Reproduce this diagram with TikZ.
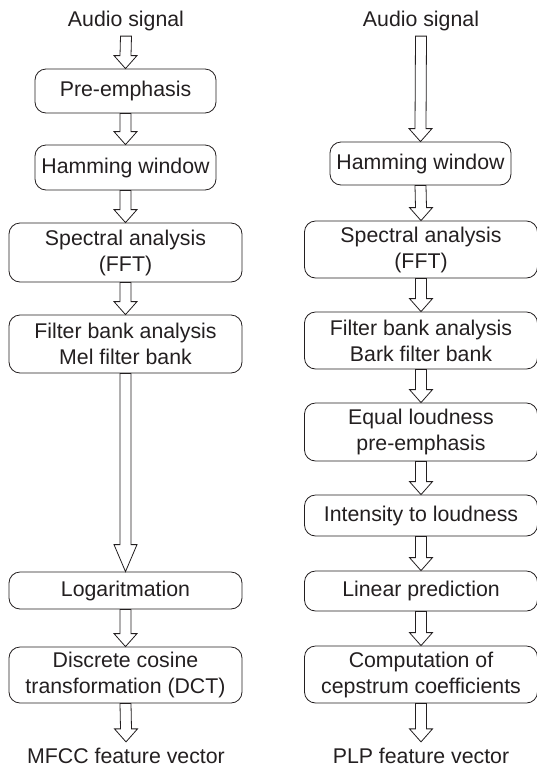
\documentclass[tikz,border=0pt]{standalone}
\usepackage{fontspec}
\setmainfont{Liberation Sans}
\usetikzlibrary{calc}
\definecolor{ink}{RGB}{35,31,32}

% hollow block arrow from node #2 down to node #3, #1 = head length
\newcommand{\flowarrow}[3][13]{%
  \draw[blockarrow] ($(#2.south)+(-5.5,0)$) -- ($(#3.north)+(-5.5,#1)$)
    -- ($(#3.north)+(-11.5,#1)$) -- (#3.north) -- ($(#3.north)+(11.5,#1)$)
    -- ($(#3.north)+(5.5,#1)$) -- ($(#2.south)+(5.5,0)$) -- cycle;}

\begin{document}
\begin{tikzpicture}[x=1pt,y=1pt,
    font=\fontsize{21.3}{26}\selectfont, text=ink,
    stagebox/.style={draw=ink, line width=0.8pt, rounded corners=11pt,
        align=center, inner sep=0pt, minimum width=233pt},
    narrowbox/.style={stagebox, minimum width=181pt},
    termtext/.style={inner xsep=0pt, inner ysep=5.5pt, anchor=base},
    blockarrow/.style={draw=ink, line width=0.8pt, fill=white, line join=miter}]
    \useasboundingbox (0,0) rectangle (536,-769);

    % MFCC chain (left)
    \node [termtext] (audioL) at (126,-26) {Audio signal};
    \node [narrowbox, minimum height=44pt] (preemph) at (125.5,-91) {Pre-emphasis};
    \node [narrowbox, minimum height=45pt] (hammL) at (125.5,-167.5) {Hamming window};
    \node [stagebox, minimum height=59pt] (spectL) at (125.5,-252.5) {Spectral analysis\\(FFT)};
    \node [stagebox, minimum height=58pt] (filtL) at (125.5,-344) {Filter bank analysis\\Mel filter bank};
    \node [stagebox, minimum height=37pt] (logL) at (125.5,-590.5) {Logaritmation};
    \node [stagebox, minimum height=56pt] (dctL) at (125.5,-675) {Discrete cosine\\transformation (DCT)};
    \node [termtext] (mfcc) at (126,-763) {MFCC feature vector};

    \flowarrow{audioL}{preemph}
    \flowarrow{preemph}{hammL}
    \flowarrow{hammL}{spectL}
    \flowarrow{spectL}{filtL}
    \flowarrow[27]{filtL}{logL}
    \flowarrow{logL}{dctL}
    \flowarrow{dctL}{mfcc}

    % PLP chain (right)
    \node [termtext] (audioR) at (421,-26) {Audio signal};
    \node [narrowbox, minimum height=43pt] (hammR) at (420.5,-163.5) {Hamming window};
    \node [stagebox, minimum height=57pt] (spectR) at (421,-249.5) {Spectral analysis\\(FFT)};
    \node [stagebox, minimum height=57pt] (filtR) at (421,-340.5) {Filter bank analysis\\Bark filter bank};
    \node [stagebox, minimum height=58pt] (equal) at (421,-432) {Equal loudness\\pre-emphasis};
    \node [stagebox, minimum height=41pt] (intens) at (421,-515.5) {Intensity to loudness};
    \node [stagebox, minimum height=40pt] (linpred) at (421,-591) {Linear prediction};
    \node [stagebox, minimum height=57pt] (cepstr) at (421,-674.5) {Computation of\\cepstrum coefficients};
    \node [termtext] (plp) at (421,-763) {PLP feature vector};

    \flowarrow{audioR}{hammR}
    \flowarrow{hammR}{spectR}
    \flowarrow{spectR}{filtR}
    \flowarrow{filtR}{equal}
    \flowarrow{equal}{intens}
    \flowarrow{intens}{linpred}
    \flowarrow{linpred}{cepstr}
    \flowarrow{cepstr}{plp}
\end{tikzpicture}
\end{document}
